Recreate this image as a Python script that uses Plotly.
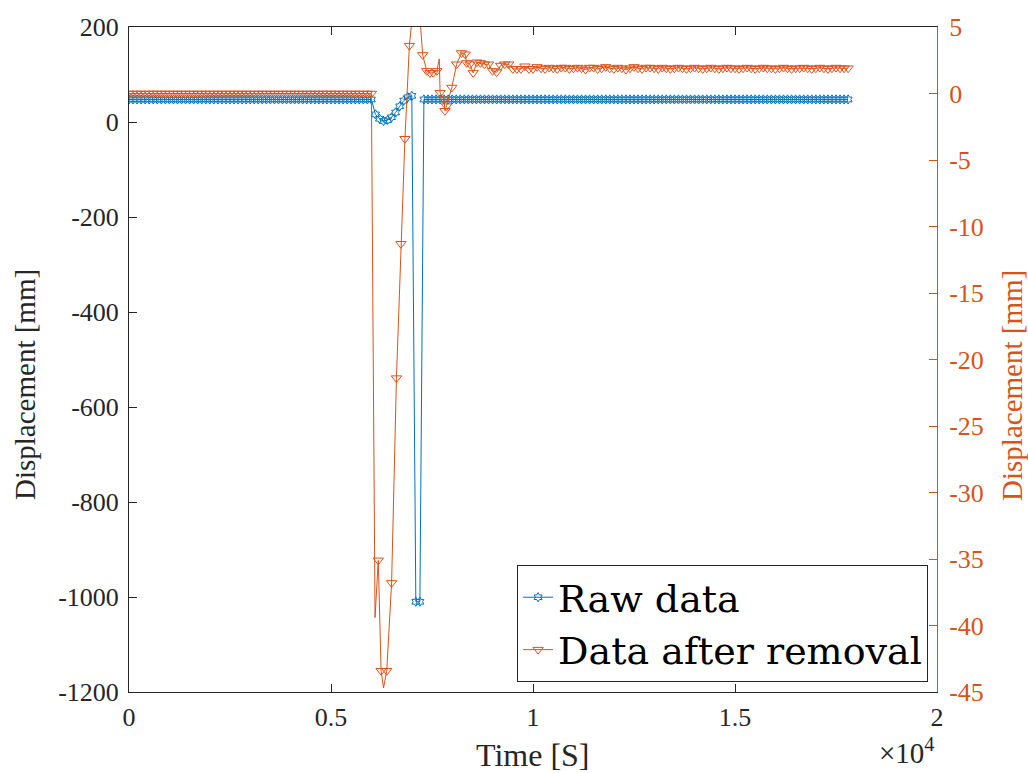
import plotly.graph_objects as go

BLUE = "#0072BD"
ORANGE = "#D95319"
AXC = "#262626"
FONT = "Liberation Serif"
LEGFONT = "DejaVu Serif"

# ---- Raw data (left axis, mm), sampled every 100 s ----
time_raw = list(range(0, 17801, 100))
raw_data = [
    47.5, 47.5, 47.5, 47.5, 47.5, 47.5, 47.5, 47.5, 47.5, 47.5,
    47.5, 47.5, 47.5, 47.5, 47.5, 47.5, 47.5, 47.5, 47.5, 47.5,
    47.5, 47.5, 47.5, 47.5, 47.5, 47.5, 47.5, 47.5, 47.5, 47.5,
    47.5, 47.5, 47.5, 47.5, 47.5, 47.5, 47.5, 47.5, 47.5, 47.5,
    47.5, 47.5, 47.5, 47.5, 47.5, 47.5, 47.5, 47.5, 47.5, 47.5,
    47.5, 47.5, 47.5, 47.5, 47.5, 47.5, 47.5, 47.5, 47.5, 47.5,
    47.5, 16, 7, 2, 4, 10, 20, 33, 45, 52,
    55, -1010, -1010, 47.5, 47.5, 47.5, 47.5, 47.5, 47.5, 47.5,
    47.5, 47.5, 47.5, 47.5, 47.5, 47.5, 47.5, 47.5, 47.5, 47.5,
    47.5, 47.5, 47.5, 47.5, 47.5, 47.5, 47.5, 47.5, 47.5, 47.5,
    47.5, 47.5, 47.5, 47.5, 47.5, 47.5, 47.5, 47.5, 47.5, 47.5,
    47.5, 47.5, 47.5, 47.5, 47.5, 47.5, 47.5, 47.5, 47.5, 47.5,
    47.5, 47.5, 47.5, 47.5, 47.5, 47.5, 47.5, 47.5, 47.5, 47.5,
    47.5, 47.5, 47.5, 47.5, 47.5, 47.5, 47.5, 47.5, 47.5, 47.5,
    47.5, 47.5, 47.5, 47.5, 47.5, 47.5, 47.5, 47.5, 47.5, 47.5,
    47.5, 47.5, 47.5, 47.5, 47.5, 47.5, 47.5, 47.5, 47.5, 47.5,
    47.5, 47.5, 47.5, 47.5, 47.5, 47.5, 47.5, 47.5, 47.5, 47.5,
    47.5, 47.5, 47.5, 47.5, 47.5, 47.5, 47.5, 47.5, 47.5,
]

# ---- Data after removal (right axis, mm) ----
# before the event, every 100 s
removed_pre_time = list(range(0, 6001, 100))
removed_pre = [
    0, 0, 0, 0, 0, 0, 0, 0, 0, 0,
    0, 0, 0, 0, 0, 0, 0, 0, 0, 0,
    0, 0, 0, 0, 0, 0, 0, 0, 0, 0,
    0, 0, 0, 0, 0, 0, 0, 0, 0, 0,
    0, 0, 0, 0, 0, 0, 0, 0, 0, 0,
    0, 0, 0, 0, 0, 0, 0, 0, 0, 0,
    0,
]
# during the event (irregular samples); marked = 1 where a marker is drawn
removed_event_time = [6090, 6170, 6240, 6300, 6380, 6500, 6620, 6730, 6830, 6940,
                      7120, 7270, 7370, 7450, 7530, 7620, 7680, 7700, 7800, 7820,
                      7860, 7990, 8110, 8230, 8320, 8360, 8440, 8520, 8610]
removed_event = [-39.4, -35.1, -43.4, -44.7, -43.4, -36.8, -21.4, -11.3, -3.4, 3.6,
                 9.0, 2.9, 1.7, 1.55, 1.55, 1.7, 2.6, 0.05, -0.45, -1.3,
                 -0.95, 0.45, 2.2, 3.05, 2.95, 2.3, 2.2, 1.55, 2.35]
removed_event_marked = [0, 1, 1, 0, 1, 1, 1, 1, 1, 1,
                        0, 1, 1, 1, 1, 1, 0, 1, 1, 1,
                        1, 1, 1, 1, 1, 1, 1, 1, 1]
# after the event, every 100 s
removed_post_time = list(range(8700, 17801, 100))
removed_post = [
    2.3, 2.2, 2.2, 1.7, 1.6, 2.1, 2.2, 2.2, 1.85, 1.85,
    1.85, 2.05, 1.85, 1.85, 2.0, 1.9, 1.85, 1.95, 1.9, 1.85,
    1.95, 1.95, 1.85, 1.9, 1.95, 1.9, 1.8, 1.95, 1.95, 1.85,
    1.9, 2.0, 1.9, 1.85, 1.95, 1.9, 1.8, 1.9, 2.0, 1.9,
    1.85, 1.95, 1.95, 1.9, 1.85, 1.95, 1.9, 1.85, 1.9, 1.95,
    1.9, 1.85, 1.9, 1.95, 1.9, 1.85, 1.9, 1.95, 1.9, 1.85,
    1.9, 1.95, 1.9, 1.9, 1.85, 1.9, 1.95, 1.9, 1.85, 1.9,
    1.95, 1.9, 1.9, 1.85, 1.9, 1.95, 1.9, 1.85, 1.9, 1.9,
    1.95, 1.9, 1.85, 1.9, 1.95, 1.9, 1.85, 1.9, 1.95, 1.9,
    1.9, 1.9,
]

x_tickvals = [0, 5000, 10000, 15000, 20000]
x_ticktext = ["0", "0.5", "1", "1.5", "2"]
y_tickvals = [200, 0, -200, -400, -600, -800, -1000, -1200]
y_ticktext = ["200", "0", "-200", "-400", "-600", "-800", "-1000", "-1200"]
y2_tickvals = [5, 0, -5, -10, -15, -20, -25, -30, -35, -40, -45]
y2_ticktext = ["5", "0", "-5", "-10", "-15", "-20", "-25", "-30", "-35", "-40", "-45"]

# assemble orange series
rem_t = removed_pre_time + removed_event_time + removed_post_time
rem_v = removed_pre + removed_event + removed_post
rem_m = [1] * len(removed_pre) + removed_event_marked + [1] * len(removed_post)
mk_t = [t for t, m in zip(rem_t, rem_m) if m]
mk_v = [v for v, m in zip(rem_v, rem_m) if m]

blue_marker = dict(symbol="hexagram-open", size=7, color=BLUE, line=dict(width=1, color=BLUE))
orange_marker = dict(symbol="triangle-down-open", size=9, color=ORANGE, line=dict(width=1, color=ORANGE))

fig = go.Figure()
fig.add_trace(go.Scatter(x=time_raw, y=raw_data, mode="lines+markers", yaxis="y",
                         line=dict(color=BLUE, width=1), marker=blue_marker,
                         showlegend=False, hoverinfo="skip"))
fig.add_trace(go.Scatter(x=rem_t, y=rem_v, mode="lines", yaxis="y2",
                         line=dict(color=ORANGE, width=1), showlegend=False, hoverinfo="skip"))
fig.add_trace(go.Scatter(x=mk_t, y=mk_v, mode="markers", yaxis="y2",
                         marker=orange_marker, showlegend=False, hoverinfo="skip"))
# legend entries
fig.add_trace(go.Scatter(x=[None], y=[None], mode="lines+markers", name="Raw data",
                         line=dict(color=BLUE, width=1), marker=blue_marker))
fig.add_trace(go.Scatter(x=[None], y=[None], mode="lines+markers", name="Data after removal",
                         yaxis="y2", line=dict(color=ORANGE, width=1), marker=orange_marker))

tickfont = dict(family=FONT, size=26, color=AXC)
fig.update_layout(
    width=1028, height=773,
    margin=dict(l=129, r=91, t=27, b=81),
    paper_bgcolor="white", plot_bgcolor="white",
    font=dict(family=FONT, color=AXC),
    xaxis=dict(range=[0, 20000], tickvals=x_tickvals, ticktext=x_ticktext,
               ticks="inside", ticklen=8, tickcolor=AXC, tickwidth=1,
               showline=True, linecolor=AXC, linewidth=1, mirror="ticks",
               showgrid=False, zeroline=False, tickfont=tickfont, ticklabelstandoff=2),
    yaxis=dict(range=[-1200, 200], tickvals=y_tickvals, ticktext=y_ticktext,
               ticks="inside", ticklen=8, tickcolor=AXC, tickwidth=1,
               showline=True, linecolor=AXC, linewidth=1,
               showgrid=False, zeroline=False, tickfont=tickfont, ticklabelstandoff=4),
    yaxis2=dict(range=[-45, 5], tickvals=y2_tickvals, ticktext=y2_ticktext,
                overlaying="y", side="right",
                ticks="inside", ticklen=8, tickcolor=ORANGE, tickwidth=1,
                showline=True, linecolor=ORANGE, linewidth=1,
                showgrid=False, zeroline=False,
                tickfont=dict(family=FONT, size=26, color=ORANGE), ticklabelstandoff=6),
    legend=dict(x=0.989, y=0.015, xanchor="right", yanchor="bottom",
                bgcolor="white", bordercolor=AXC, borderwidth=1,
                font=dict(family=LEGFONT, size=38, color="black"),
                tracegroupgap=0),
    annotations=[
        dict(text="Time [S]", x=0.5, y=-0.095, xref="paper", yref="paper",
             xanchor="center", yanchor="middle", showarrow=False,
             font=dict(family=FONT, size=32, color=AXC)),
        dict(text="×10<sup>4</sup>", x=1.0, y=-0.088, xref="paper", yref="paper",
             xanchor="right", yanchor="middle", showarrow=False,
             font=dict(family=FONT, size=29, color=AXC)),
        dict(text="Displacement [mm]", x=-0.1287, y=0.4617, xref="paper", yref="paper",
             xanchor="center", yanchor="middle", textangle=-90, showarrow=False,
             font=dict(family=FONT, size=29, color=AXC)),
        dict(text="Displacement [mm]", x=1.0928, y=0.4617, xref="paper", yref="paper",
             xanchor="center", yanchor="middle", textangle=-90, showarrow=False,
             font=dict(family=FONT, size=29, color=ORANGE)),
    ],
)

fig.write_html("out.html")
